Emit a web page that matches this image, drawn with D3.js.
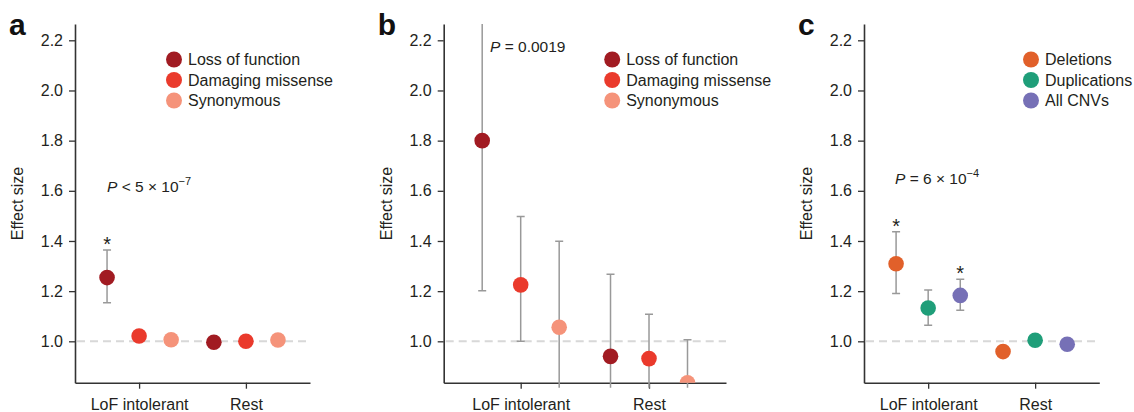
<!DOCTYPE html>
<html>
<head>
<meta charset="utf-8">
<script src="https://cdn.jsdelivr.net/npm/d3@7"></script>
<style>
  body { margin: 0; background: #fff; }
  svg { display: block; font-family: "Liberation Sans", Arial, sans-serif; }
</style>
</head>
<body>
<svg id="chart" width="1134" height="412"></svg>
<script>
// ---------- data ----------
const panelLabels = ["a", "b", "c"];
const categories = ["LoF intolerant", "Rest"];
const yTicks = [1.0, 1.2, 1.4, 1.6, 1.8, 2.0, 2.2];
const snvSeries = ["Loss of function", "Damaging missense", "Synonymous"];
const cnvSeries = ["Deletions", "Duplications", "All CNVs"];
const snvColors = ["#a11b22", "#ea3a2c", "#f5937a"];
const cnvColors = ["#e1602a", "#1f9e79", "#7670b6"];

// panel a : values per series [LoF intolerant, Rest]
const aValues = [[1.254, 0.996], [1.021, 1.000], [1.006, 1.005]];
const aLower  = [[1.154, null], [null, null], [null, null]];
const aUpper  = [[1.364, null], [null, null], [null, null]];
const aStars  = [[true, false], [false, false], [false, false]];
const aPText  = ["P", " < 5 × 10", "−7"];

// panel b
const bValues = [[1.800, 0.940], [1.225, 0.931], [1.056, 0.835]];
const bLower  = [[1.202, 0.70], [1.000, 0.78], [0.80, 0.69]];
const bUpper  = [[2.700, 1.267], [1.498, 1.108], [1.399, 1.006]];
const bStars  = [[false, false], [false, false], [false, false]];
const bPText  = ["P", " = 0.0019", ""];

// panel c
const cValues = [[1.309, 0.959], [1.133, 1.004], [1.183, 0.988]];
const cLower  = [[1.191, null], [1.064, null], [1.124, null]];
const cUpper  = [[1.437, null], [1.205, null], [1.247, null]];
const cStars  = [[true, false], [false, false], [true, false]];
const cPText  = ["P", " = 6 × 10", "−4"];

// ---------- layout ----------
const panels = [
  { label: panelLabels[0], series: snvSeries, colors: snvColors, values: aValues, lower: aLower, upper: aUpper, stars: aStars, ptext: aPText,
    x0: 75, x1: 310, legendDx: 99, pPos: [107, 192] },
  { label: panelLabels[1], series: snvSeries, colors: snvColors, values: bValues, lower: bLower, upper: bUpper, stars: bStars, ptext: bPText,
    x0: 443.7, x1: 726, legendDx: 168.5, pPos: [490, 52] },
  { label: panelLabels[2], series: cnvSeries, colors: cnvColors, values: cValues, lower: cLower, upper: cUpper, stars: cStars, ptext: cPText,
    x0: 864, x1: 1099.3, legendDx: 167, pPos: [895, 184] }
];
const yTop = 24, yBottom = 382.7;
const offsets = [-0.3, 0, 0.3];
const textColor = "#231f20";
const axisColor = "#333";

const svg = d3.select("#chart");

panels.forEach((p, pi) => {
  const x = d3.scaleLinear().domain([0.4, 2.6]).range([p.x0, p.x1]);
  const y = d3.scaleLinear().domain([0.835, 2.265]).range([yBottom, yTop]);
  const g = svg.append("g");

  // clip paths
  const defs = svg.append("defs");
  defs.append("clipPath").attr("id", "clipBar" + pi)
    .append("rect").attr("x", p.x0).attr("y", yTop).attr("width", p.x1 - p.x0).attr("height", yBottom - yTop + 5);
  defs.append("clipPath").attr("id", "clipDot" + pi)
    .append("rect").attr("x", p.x0).attr("y", 0).attr("width", p.x1 - p.x0).attr("height", yBottom);

  // reference dashed line
  g.append("line")
    .attr("x1", p.x0 + 2).attr("x2", p.x1)
    .attr("y1", y(1)).attr("y2", y(1))
    .attr("stroke", "#d8d8d8").attr("stroke-width", 2).attr("stroke-dasharray", "8,5");

  // y axis
  const yAxis = d3.axisLeft(y).tickValues(yTicks).tickFormat(d3.format(".1f")).tickSize(6).tickSizeOuter(0).tickPadding(6);
  const ya = g.append("g").attr("transform", `translate(${p.x0},0)`).call(yAxis);
  // x axis
  const xAxis = d3.axisBottom(x).tickValues([1, 2]).tickFormat((d, i) => categories[i]).tickSize(6).tickSizeOuter(0).tickPadding(10);
  const xa = g.append("g").attr("transform", `translate(0,${yBottom})`).call(xAxis);
  [ya, xa].forEach(a => {
    a.select(".domain").attr("stroke", axisColor).attr("stroke-width", 1.6);
    a.selectAll(".tick line").attr("stroke", axisColor).attr("stroke-width", 1.3);
    a.selectAll(".tick text").attr("fill", textColor).style("font-size", "16px")
      .style("font-family", '"Liberation Sans", Arial, sans-serif');
  });

  // y label
  g.append("text")
    .attr("transform", `translate(${p.x0 - 52},${203.5}) rotate(-90)`)
    .attr("text-anchor", "middle")
    .attr("fill", textColor).style("font-size", "16px")
    .text("Effect size");

  // panel label
  g.append("text")
    .attr("x", p.x0 - 66).attr("y", 35)
    .attr("fill", "#111").style("font-size", "30px").style("font-weight", "bold")
    .text(p.label);

  // points
  const pts = [];
  p.series.forEach((s, si) => {
    categories.forEach((c, ci) => {
      pts.push({ cx: 1 + ci + offsets[si], v: p.values[si][ci], lo: p.lower[si][ci], hi: p.upper[si][ci],
                 star: p.stars[si][ci], color: p.colors[si] });
    });
  });

  const bars = g.append("g").attr("clip-path", `url(#clipBar${pi})`);
  pts.filter(d => d.lo != null).forEach(d => {
    const cx = x(d.cx);
    bars.append("line").attr("x1", cx).attr("x2", cx).attr("y1", y(d.lo)).attr("y2", y(d.hi))
      .attr("stroke", "#999").attr("stroke-width", 1.5);
    [d.lo, d.hi].forEach(v => {
      bars.append("line").attr("x1", cx - 4).attr("x2", cx + 4).attr("y1", y(v)).attr("y2", y(v))
        .attr("stroke", "#999").attr("stroke-width", 1.5);
    });
  });

  const dots = g.append("g").attr("clip-path", `url(#clipDot${pi})`);
  dots.selectAll("circle").data(pts).join("circle")
    .attr("cx", d => x(d.cx)).attr("cy", d => y(d.v)).attr("r", 7.8)
    .attr("fill", d => d.color);

  pts.filter(d => d.star).forEach(d => {
    g.append("text").attr("x", x(d.cx)).attr("y", y(d.hi) + 1)
      .attr("text-anchor", "middle").attr("fill", textColor).style("font-size", "20px").text("*");
  });

  // legend
  const lg = g.append("g").attr("transform", `translate(${p.x0 + p.legendDx},59.5)`);
  p.series.forEach((s, si) => {
    lg.append("circle").attr("cx", 0).attr("cy", si * 20.5).attr("r", 8).attr("fill", p.colors[si]);
    lg.append("text").attr("x", 14).attr("y", si * 20.5 + 5.5)
      .attr("fill", textColor).style("font-size", "16px").text(s);
  });

  // P value annotation
  const pt = g.append("text").attr("x", p.pPos[0]).attr("y", p.pPos[1])
    .attr("fill", textColor).style("font-size", "15.5px");
  pt.append("tspan").style("font-style", "italic").text(p.ptext[0]);
  pt.append("tspan").text(p.ptext[1]);
  if (p.ptext[2]) {
    pt.append("tspan").attr("dy", -7).style("font-size", "11px").text(p.ptext[2]);
  }
});
</script>
</body>
</html>
